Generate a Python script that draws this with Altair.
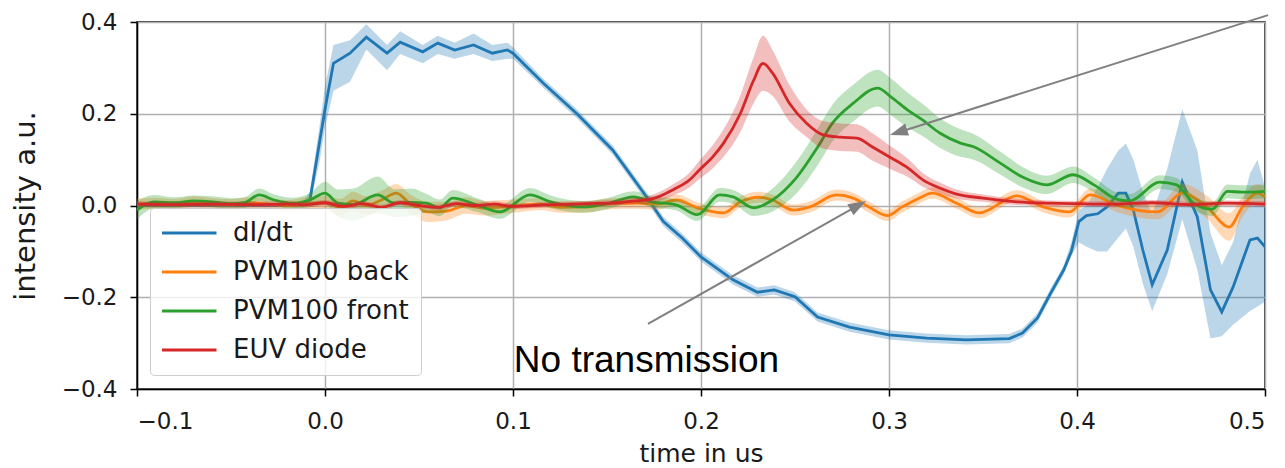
import math
import altair as alt
import pandas as pd

# ---------------- data ----------------
series_names = ["dI/dt", "PVM100 back", "PVM100 front", "EUV diode"]
series_colors = ["#1f77b4", "#ff7f0e", "#2ca02c", "#d62728"]

x_ticks = [-0.1, 0.0, 0.1, 0.2, 0.3, 0.4, 0.5]
y_ticks = [-0.4, -0.2, 0.0, 0.2, 0.4]

blue_t = [-0.1, -0.05, -0.02, -0.012, -0.008, -0.0027, 0.0, 0.0045, 0.0133, 0.022,
          0.033, 0.040, 0.052, 0.060, 0.069, 0.079, 0.089, 0.097, 0.100, 0.116,
          0.134, 0.153, 0.171, 0.180, 0.190, 0.200, 0.217, 0.230, 0.239, 0.250,
          0.262, 0.279, 0.300, 0.320, 0.341, 0.364, 0.371, 0.379, 0.386, 0.393,
          0.397, 0.401, 0.405, 0.411, 0.416, 0.422, 0.426, 0.430, 0.435, 0.440,
          0.448, 0.456, 0.464, 0.471, 0.477, 0.483, 0.492, 0.496, 0.500]
blue_y = [0.0, 0.0, 0.0, 0.002, 0.012, 0.143, 0.21, 0.31, 0.332, 0.367,
          0.332, 0.356, 0.335, 0.354, 0.339, 0.35, 0.332, 0.339, 0.332, 0.267,
          0.2, 0.121, 0.019, -0.035, -0.071, -0.112, -0.162, -0.189, -0.184, -0.199,
          -0.243, -0.265, -0.282, -0.289, -0.293, -0.29, -0.278, -0.245, -0.191, -0.14,
          -0.10, -0.035, -0.022, -0.018, -0.003, 0.027, 0.027, -0.01, -0.097, -0.173,
          -0.097, 0.051, -0.025, -0.184, -0.232, -0.178, -0.075, -0.071, -0.09]
blue_lo = [-0.004, -0.004, -0.004, -0.003, 0.0, 0.10, 0.17, 0.25, 0.27, 0.34,
           0.295, 0.33, 0.31, 0.33, 0.32, 0.33, 0.315, 0.32, 0.32, 0.257,
           0.19, 0.111, 0.009, -0.045, -0.081, -0.122, -0.172, -0.199, -0.194, -0.209,
           -0.253, -0.275, -0.292, -0.299, -0.303, -0.30, -0.288, -0.255, -0.201, -0.15,
           -0.11, -0.08, -0.09, -0.10, -0.10, -0.07, -0.05, -0.09, -0.17, -0.23,
           -0.15, -0.03, -0.14, -0.29, -0.285, -0.26, -0.23, -0.22, -0.21]
blue_hi = [0.004, 0.004, 0.004, 0.007, 0.03, 0.18, 0.26, 0.35, 0.36, 0.395,
           0.35, 0.38, 0.35, 0.37, 0.355, 0.375, 0.35, 0.355, 0.345, 0.277,
           0.21, 0.131, 0.029, -0.025, -0.061, -0.102, -0.152, -0.179, -0.174, -0.189,
           -0.233, -0.255, -0.272, -0.279, -0.283, -0.28, -0.268, -0.235, -0.181, -0.13,
           -0.08, -0.01, 0.0, 0.04, 0.08, 0.12, 0.135, 0.10, 0.03, -0.02,
           0.08, 0.21, 0.12, -0.06, -0.13, -0.08, 0.07, 0.10, 0.04]

orange_t = [-0.1, -0.09, -0.08, -0.07, -0.06, -0.05, -0.04, -0.03, -0.02, -0.01,
            0.0, 0.008, 0.015, 0.022, 0.03, 0.038, 0.045, 0.055, 0.065, 0.075,
            0.085, 0.095, 0.104, 0.115, 0.125, 0.139, 0.152, 0.166, 0.176, 0.187,
            0.198, 0.212, 0.221, 0.231, 0.238, 0.249, 0.258, 0.272, 0.281, 0.290,
            0.299, 0.307, 0.316, 0.323, 0.336, 0.348, 0.368, 0.382, 0.396, 0.407,
            0.421, 0.443, 0.456, 0.469, 0.481, 0.488, 0.496, 0.5]
orange_y = [0.003, 0.005, 0.002, 0.008, 0.004, 0.002, 0.006, 0.003, 0.0, 0.004,
            0.006, -0.004, 0.01, 0.0, 0.012, 0.027, 0.005, -0.014, -0.012, 0.0,
            -0.006, -0.003, 0.0, 0.003, -0.004, -0.003, 0.004, 0.005, 0.003, 0.012,
            -0.005, -0.016, 0.008, 0.018, 0.012, -0.01, -0.003, 0.023, 0.016, -0.005,
            -0.022, -0.003, 0.016, 0.027, 0.005, -0.016, 0.021, -0.003, -0.014, 0.023,
            0.001, -0.014, 0.027, -0.003, -0.047, -0.003, 0.027, 0.019]
orange_err = [0.012, 0.012, 0.012, 0.012, 0.012, 0.012, 0.012, 0.012, 0.012, 0.014,
              0.015, 0.018, 0.02, 0.02, 0.02, 0.02, 0.02, 0.022, 0.02, 0.018,
              0.016, 0.015, 0.014, 0.013, 0.012, 0.012, 0.012, 0.012, 0.012, 0.012,
              0.012, 0.012, 0.012, 0.012, 0.012, 0.012, 0.012, 0.012, 0.012, 0.012,
              0.012, 0.012, 0.012, 0.012, 0.012, 0.012, 0.012, 0.012, 0.012, 0.014,
              0.015, 0.016, 0.02, 0.025, 0.03, 0.022, 0.02, 0.02]

green_t = [-0.1, -0.091, -0.08, -0.07, -0.06, -0.05, -0.043, -0.035, -0.027, -0.017,
           -0.008, 0.0, 0.007, 0.015, 0.028, 0.037, 0.046, 0.054, 0.061, 0.068,
           0.081, 0.093, 0.109, 0.120, 0.137, 0.150, 0.164, 0.174, 0.187, 0.198,
           0.210, 0.217, 0.228, 0.238, 0.251, 0.262, 0.270, 0.281, 0.294, 0.301,
           0.310, 0.318, 0.327, 0.338, 0.345, 0.359, 0.371, 0.384, 0.398, 0.409,
           0.421, 0.428, 0.444, 0.453, 0.462, 0.472, 0.480, 0.488, 0.5]
green_y = [-0.01, 0.008, 0.006, 0.01, 0.008, 0.004, 0.006, 0.023, 0.012, 0.005,
           0.012, 0.027, 0.005, 0.002, 0.023, 0.005, 0.007, 0.005, -0.005, 0.016,
           0.001, -0.014, 0.023, 0.008, -0.003, 0.004, 0.019, 0.008, 0.001, -0.02,
           0.023, 0.019, -0.005, 0.012, 0.062, 0.127, 0.18, 0.223, 0.256, 0.237,
           0.208, 0.186, 0.158, 0.136, 0.128, 0.093, 0.062, 0.045, 0.067, 0.045,
           0.014, 0.01, 0.051, 0.045, 0.005, -0.008, 0.031, 0.029, 0.031]
green_err = [0.02, 0.015, 0.012, 0.012, 0.012, 0.012, 0.012, 0.014, 0.012, 0.012,
             0.015, 0.025, 0.03, 0.035, 0.04, 0.03, 0.03, 0.02, 0.018, 0.018,
             0.015, 0.015, 0.015, 0.014, 0.013, 0.012, 0.012, 0.012, 0.012, 0.014,
             0.015, 0.015, 0.018, 0.025, 0.035, 0.04, 0.04, 0.04, 0.04, 0.04,
             0.038, 0.035, 0.032, 0.03, 0.028, 0.025, 0.022, 0.02, 0.018, 0.016,
             0.015, 0.015, 0.015, 0.015, 0.015, 0.015, 0.015, 0.015, 0.015]

red_t = [-0.1, -0.08, -0.06, -0.04, -0.02, -0.01, 0.0, 0.01, 0.02, 0.03,
         0.04, 0.05, 0.06, 0.07, 0.08, 0.09, 0.1, 0.12, 0.14, 0.155,
         0.165, 0.171, 0.178, 0.185, 0.194, 0.199, 0.206, 0.212, 0.221, 0.228,
         0.233, 0.238, 0.247, 0.256, 0.265, 0.274, 0.283, 0.291, 0.301, 0.31,
         0.318, 0.327, 0.335, 0.35, 0.368, 0.386, 0.4, 0.42, 0.44, 0.46,
         0.48, 0.5]
red_y = [0.003, 0.002, 0.003, 0.002, 0.003, 0.002, 0.006, -0.002, 0.004, -0.004,
         0.006, 0.0, -0.004, 0.004, 0.0, 0.003, -0.002, 0.002, 0.004, 0.006,
         0.01, 0.012, 0.02, 0.034, 0.056, 0.077, 0.105, 0.136, 0.201, 0.273,
         0.31, 0.289, 0.223, 0.18, 0.154, 0.149, 0.147, 0.128, 0.104, 0.082,
         0.056, 0.038, 0.026, 0.016, 0.008, 0.005, 0.004, 0.003, 0.006, 0.002,
         0.005, 0.003]
red_err = [0.006, 0.006, 0.006, 0.006, 0.006, 0.006, 0.006, 0.006, 0.006, 0.006,
           0.006, 0.006, 0.006, 0.006, 0.006, 0.006, 0.006, 0.006, 0.006, 0.006,
           0.007, 0.008, 0.01, 0.012, 0.016, 0.02, 0.025, 0.03, 0.04, 0.05,
           0.06, 0.05, 0.04, 0.03, 0.03, 0.03, 0.03, 0.03, 0.025, 0.02,
           0.015, 0.012, 0.01, 0.008, 0.007, 0.006, 0.006, 0.006, 0.006, 0.006,
           0.006, 0.006]

# annotations (data coordinates)
arrow_tail_t = [0.5016, 0.1718]
arrow_tail_v = [0.415, -0.258]
arrow_tip_t = [0.3005, 0.2878]
arrow_tip_v = [0.1537, 0.0098]
note_text = ["No transmission"]
note_t = [0.171]
note_v = [-0.363]

# ---------------- chart ----------------
X_DOMAIN = [-0.1, 0.5]
Y_DOMAIN = [-0.4, 0.4]
W, H = 1128, 367
PX_X = W / (X_DOMAIN[1] - X_DOMAIN[0])
PX_Y = H / (Y_DOMAIN[1] - Y_DOMAIN[0])


def frame(name, ts, ys, los, his):
    return pd.DataFrame({"series": name, "t": ts, "y": ys, "lo": los, "hi": his})


frames = [
    frame(series_names[0], blue_t, blue_y, blue_lo, blue_hi),
    frame(series_names[1], orange_t, orange_y,
          [a - e for a, e in zip(orange_y, orange_err)],
          [a + e for a, e in zip(orange_y, orange_err)]),
    frame(series_names[2], green_t, green_y,
          [a - e for a, e in zip(green_y, green_err)],
          [a + e for a, e in zip(green_y, green_err)]),
    frame(series_names[3], red_t, red_y,
          [a - e for a, e in zip(red_y, red_err)],
          [a + e for a, e in zip(red_y, red_err)]),
]

xscale = alt.Scale(domain=X_DOMAIN, nice=False, zero=False)
yscale = alt.Scale(domain=Y_DOMAIN, nice=False, zero=False)
minus_expr = "replace(format(datum.value, '.1f'), '-', '\u2212')"
x_axis = alt.Axis(values=x_ticks, labelExpr=minus_expr, title="time in us", grid=True)
y_axis = alt.Axis(values=y_ticks, labelExpr=minus_expr, title="intensity a.u.", grid=True)
color_scale = alt.Scale(domain=series_names, range=series_colors)
legend = alt.Legend(
    title=None, orient="none", legendX=13, legendY=186,
    symbolType="stroke", symbolSize=3249, symbolStrokeWidth=3, symbolOffset=-4,
    clipHeight=26,
    labelFont="DejaVu Sans", labelFontSize=26, labelColor="#1a1a1a", labelLimit=400,
    labelOffset=15, rowPadding=13, padding=12,
    fillColor="rgba(255,255,255,0.8)", strokeColor="#cccccc", cornerRadius=4,
)

layers = []
for df, color in zip(frames, series_colors):
    interp = "linear" if color == series_colors[0] else "monotone"
    base = alt.Chart(df)
    band = base.mark_area(color=color, opacity=0.3, clip=True, interpolate=interp).encode(
        x=alt.X("t:Q", scale=xscale, axis=x_axis),
        y=alt.Y("lo:Q", scale=yscale, axis=y_axis),
        y2="hi:Q",
    )
    line = base.mark_line(strokeWidth=2.8, clip=True, interpolate=interp).encode(
        x=alt.X("t:Q", scale=xscale, axis=x_axis),
        y=alt.Y("y:Q", scale=yscale, axis=y_axis),
        color=alt.Color("series:N", scale=color_scale, legend=legend),
    )
    layers += [band, line]

# arrows: shaft + head, computed in pixel space then mapped back to data units
HEAD_LEN = 18.0
rows_shaft, rows_head = [], []
for tt, tv, ht, hv in zip(arrow_tail_t, arrow_tail_v, arrow_tip_t, arrow_tip_v):
    dx = (ht - tt) * PX_X
    dy = -(hv - tv) * PX_Y
    n = math.hypot(dx, dy)
    ux, uy = dx / n, dy / n
    end_t = ht - ux * (HEAD_LEN * 0.7) / PX_X
    end_v = hv + uy * (HEAD_LEN * 0.7) / PX_Y
    rows_shaft.append({"x": tt, "y": tv, "x2": end_t, "y2": end_v})
    cx = ht - ux * (HEAD_LEN / 2) / PX_X
    cy = hv + uy * (HEAD_LEN / 2) / PX_Y
    ang = math.degrees(math.atan2(ux, -uy)) % 360
    rows_head.append({"x": cx, "y": cy, "ang": ang})

shafts = alt.Chart(pd.DataFrame(rows_shaft)).mark_rule(
    color="#808080", strokeWidth=2, clip=False
).encode(
    x=alt.X("x:Q", scale=xscale, axis=x_axis),
    y=alt.Y("y:Q", scale=yscale, axis=y_axis),
    x2="x2:Q", y2="y2:Q",
)
heads = alt.Chart(pd.DataFrame(rows_head)).mark_point(
    shape="M0,-1L-0.7,1L0.7,1Z", filled=True, color="#808080", opacity=1,
    size=HEAD_LEN ** 2, clip=False,
).encode(
    x=alt.X("x:Q", scale=xscale, axis=x_axis),
    y=alt.Y("y:Q", scale=yscale, axis=y_axis),
    angle=alt.Angle("ang:Q", scale=None),
)
note = alt.Chart(pd.DataFrame({"x": note_t, "y": note_v, "label": note_text})).mark_text(
    font="Liberation Sans", fontSize=37, color="black", align="center",
    baseline="alphabetic", clip=False,
).encode(
    x=alt.X("x:Q", scale=xscale, axis=x_axis),
    y=alt.Y("y:Q", scale=yscale, axis=y_axis),
    text="label:N",
)

chart = alt.layer(*layers, shafts, heads, note).properties(
    width=W, height=H,
    autosize=alt.AutoSizeParams(type="none"),
    padding={"left": 129, "top": 14, "right": 12, "bottom": 78},
).configure_view(
    stroke="black", strokeWidth=1.5,
).configure_axis(
    domainColor="black", domainWidth=1.5,
    tickColor="black", tickWidth=1.5, tickSize=7,
    gridColor="#b0b0b0", gridWidth=1.5,
    labelFont="DejaVu Sans", labelFontSize=23, labelColor="#1a1a1a",
    titleFont="DejaVu Sans", titleFontSize=25, titleFontWeight="normal", titleColor="#1a1a1a",
).configure_axisX(
    labelPadding=14, titlePadding=8, titleFontSize=25,
).configure_axisY(
    labelPadding=13, titlePadding=21, titleFontSize=29,
)

chart.save("out.html", embed_options={"renderer": "svg", "actions": False})
